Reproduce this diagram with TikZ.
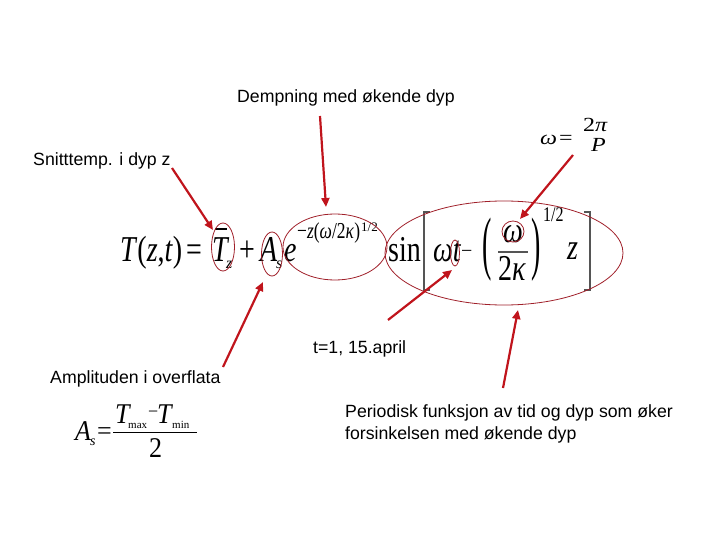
\documentclass[tikz,border=0pt]{standalone}
\usepackage{fontspec}
\usepackage{graphicx}
\setmainfont{Liberation Sans}
\newfontfamily\eqf{Liberation Serif}
\usetikzlibrary{shapes.geometric,arrows.meta}
\definecolor{arrc}{HTML}{C0141C}
\definecolor{ellc}{HTML}{A0202A}
\definecolor{brc}{HTML}{555555}
\newcommand{\ys}[1]{\scalebox{1}[1.3]{#1}}
\newcommand{\yt}[1]{\scalebox{1}[1.1]{#1}}
\newcommand{\xs}[1]{\scalebox{1.2}[1]{#1}}
\tikzset{
  lbl/.style={inner sep=0pt, anchor=base west, font=\fontsize{17.7}{21}\selectfont},
  eqp/.style={inner sep=0pt, anchor=base west, font=\eqf\fontsize{28}{28}\selectfont},
  eqmin/.style={inner sep=0pt, anchor=base west, font=\eqf\fontsize{20}{20}\selectfont},
  eqsub/.style={inner sep=0pt, anchor=base west, font=\eqf\fontsize{16}{16}\selectfont},
  eqsup/.style={inner sep=0pt, anchor=base west, font=\eqf\fontsize{17.5}{17.5}\selectfont},
  eqsm/.style={inner sep=0pt, anchor=base west, font=\eqf\fontsize{13}{13}\selectfont},
  eqw/.style={inner sep=0pt, anchor=base west, font=\eqf\fontsize{20}{20}\selectfont},
  eqa/.style={inner sep=0pt, anchor=base west, font=\eqf\fontsize{26}{26}\selectfont},
  eqam/.style={inner sep=0pt, anchor=base west, font=\eqf\fontsize{18}{18}\selectfont},
  eqas/.style={inner sep=0pt, anchor=base west, font=\eqf\fontsize{11}{11}\selectfont},
  eqass/.style={inner sep=0pt, anchor=base west, font=\eqf\fontsize{14}{14}\selectfont},
  ell/.style={ellipse, draw=ellc, line width=0.8pt, inner sep=0pt},
  arr/.style={draw=arrc, line width=2.2pt, -{Triangle[length=9pt,width=8pt]}},
  brk/.style={draw=brc, line width=1.2pt},
  fracl/.style={draw=brc, line width=1.2pt}
}
\begin{document}
\begin{tikzpicture}[x=1pt,y=-1pt]
\useasboundingbox (0,0) rectangle (720,540);

% labels
\node[lbl] (demp) at (237,103) {Dempning med økende dyp};
\node[lbl] (snitt) at (33,166) {Snitttemp. i dyp z};
\node[lbl] (tapr) at (313,353) {t=1, 15.april};
\node[lbl] (ampl) at (50,383) {Amplituden i overflata};
\node[lbl] (per1) at (345,417) {Periodisk funksjon av tid og dyp som øker};
\node[lbl] (per2) at (345,439) {forsinkelsen med økende dyp};

% main equation
\node[eqp] (Tzt) at (120,261) {\ys{\textit{T}(\textit{z},\textit{t})}};
\node[eqp] (eq1) at (186,261) {\ys{=}};
\node[eqp] (Tbar) at (212,261) {\ys{\textit{T}}};
\draw[line width=1.4pt] (215,229) -- (227,229);
\node[eqsub] (Tsub) at (226,268) {\textit{z}};
\node[eqp] (plus) at (239,261) {\ys{+}};
\node[eqp] (A) at (260,261) {\ys{\textit{A}}};
\node[eqsub] (As) at (276,268) {\textit{s}};
\node[eqp] (e) at (284,261) {\ys{\textit{e}}};
\node[eqsup] (ex) at (297,239) {\ys{−\textit{z}(\textit{ω}/2\textit{κ})}};
\node[eqsm] (ex2) at (361,231) {1/2};
\node[eqp] (sin) at (388,261) {\ys{sin}};
\draw[brk] (430,212) -- (424,212) -- (424,290) -- (430,290);
\draw[brk] (584,212) -- (590,212) -- (590,290) -- (584,290);
\node[eqp] (wt) at (433,261) {\ys{\textit{ωt}}};
\node[eqmin] (minus) at (461,257) {−};
\node[eqp] (lp) at (482,266) {\scalebox{1}[2.5]{(}};
\node[eqp] (w2) at (503,242) {\ys{\textit{ω}}};
\draw[fracl] (498,252) -- (528,252);
\node[eqp] (k2) at (498,280) {\ys{2\textit{κ}}};
\node[eqp] (rp) at (531,266) {\scalebox{1}[2.5]{)}};
\node[eqsub] (half) at (543,222) {\ys{1/2}};
\node[eqp] (zz) at (567,259) {\ys{\textit{z}}};

% omega = 2pi/P
\node[eqw] (om) at (540,145) {\xs{\textit{ω}}};
\node[eqw] (omeq) at (559,145) {\xs{=}};
\node[eqw] (twopi) at (583,132) {\xs{2\textit{π}}};
\node[eqw] (P) at (591,152) {\xs{\textit{P}}};

% A_s formula
\node[eqa] (A2) at (75,440) {\yt{\textit{A}}};
\node[eqass] (A2s) at (90,445) {\textit{s}};
\node[eqa] (A2eq) at (97,439) {=};
\node[eqa] (Tmax) at (115,423) {\yt{\textit{T}}};
\node[eqas] (maxs) at (128,428) {max};
\node[eqam] (mn) at (148,417) {−};
\node[eqa] (Tmin) at (157,423) {\yt{\textit{T}}};
\node[eqas] (mins) at (172,428) {min};
\draw[line width=1pt] (113,432) -- (197,432);
\node[eqa] (two) at (149,457) {\yt{2}};

% ellipses
\node[ell, minimum width=23pt, minimum height=48pt] (eT) at (223,247) {};
\node[ell, minimum width=21pt, minimum height=44pt] (eA) at (272,254) {};
\node[ell, minimum width=104pt, minimum height=66pt] (eE) at (335,247) {};
\node[ell, minimum width=238pt, minimum height=104pt] (eB) at (504,253) {};
\node[ell, minimum width=9pt, minimum height=26pt] (et) at (455,253) {};
\node[ell, minimum width=22pt, minimum height=21pt] (ew) at (513,231.5) {};

% arrows
\coordinate (s1) at (172,168); \coordinate (t1) at (213,230);
\coordinate (s2) at (320,116); \coordinate (t2) at (326,207);
\coordinate (s3) at (573,155); \coordinate (t3) at (520,219);
\coordinate (s4) at (223,367); \coordinate (t4) at (263,282);
\coordinate (s5) at (388,320); \coordinate (t5) at (452,270);
\coordinate (s6) at (503,388); \coordinate (t6) at (518,310);
\draw[arr] (s1) -- (t1);
\draw[arr] (s2) -- (t2);
\draw[arr] (s3) -- (t3);
\draw[arr] (s4) -- (t4);
\draw[arr] (s5) -- (t5);
\draw[arr] (s6) -- (t6);
\end{tikzpicture}
\end{document}
